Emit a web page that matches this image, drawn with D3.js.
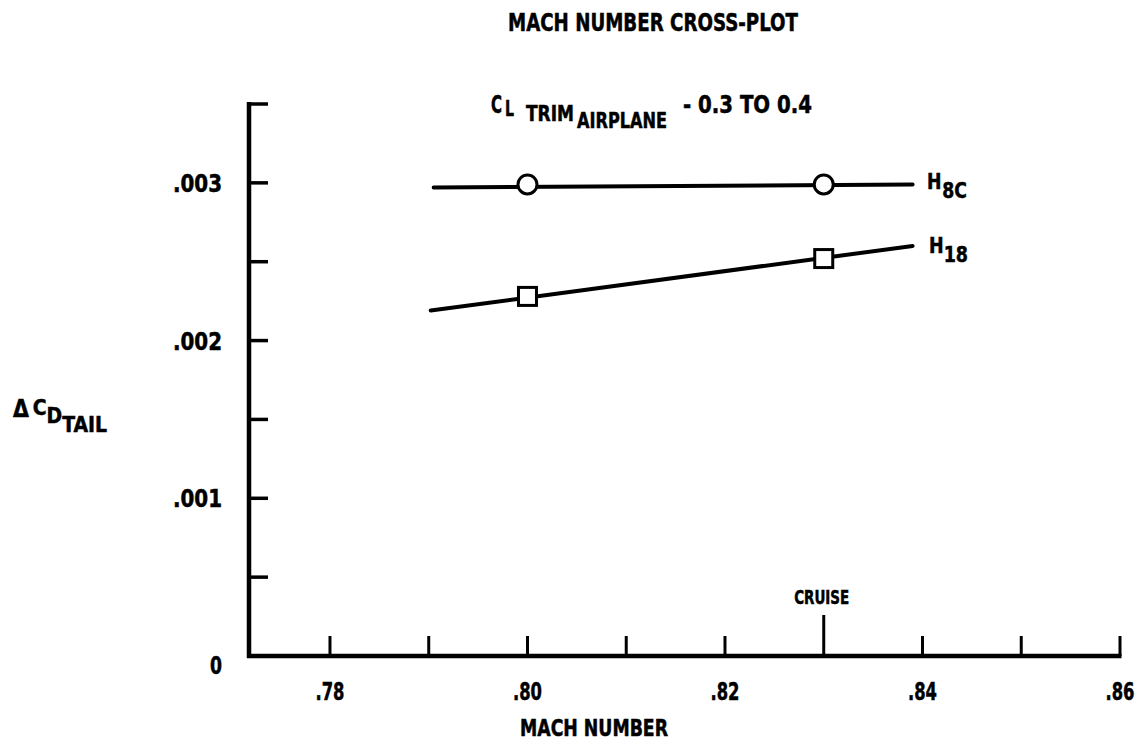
<!DOCTYPE html>
<html><head><meta charset="utf-8">
<script src="https://cdn.jsdelivr.net/npm/d3@7"></script>
<style>
body{margin:0;background:#fff}
text{font-family:"DejaVu Sans Condensed","DejaVu Sans",sans-serif;font-stretch:condensed;font-weight:bold;fill:#000;stroke:#000;stroke-width:0.5px}
</style></head>
<body><svg id="c" width="1144" height="744"></svg>
<script>
// ---- data ----
const xTickValues = [0.78, 0.79, 0.80, 0.81, 0.82, 0.83, 0.84, 0.85, 0.86];
const xLabelValues = [0.78, 0.80, 0.82, 0.84, 0.86];
const xLabelTexts = [".78", ".80", ".82", ".84", ".86"];
const yTickValues = [0, 0.0005, 0.001, 0.0015, 0.002, 0.0025, 0.003, 0.0035];
const yLabelValues = [0, 0.001, 0.002, 0.003];
const yLabelTexts = ["0", ".001", ".002", ".003"];
const cruiseMach = 0.83;

const h8cLineMach = [0.7905, 0.839];
const h8cLineVal  = [0.00297, 0.00299];
const h8cPointMach = [0.80, 0.83];
const h8cPointVal  = [0.00299, 0.00299];

const h18LineMach = [0.7902, 0.839];
const h18LineVal  = [0.00219, 0.00260];
const h18PointMach = [0.80, 0.83];
const h18PointVal  = [0.00228, 0.00252];

// ---- chart ----
const svg = d3.select("#c");
const xMin = 0.7718, xMax = 0.86, yMax = 0.0035;
const x = d3.scaleLinear().domain([xMin, xMax]).range([249, 1120]);
const y = d3.scaleLinear().domain([0, yMax]).range([656, 104]);

function txt(px, py, s, size, len, anchor) {
  const t = svg.append("text").attr("x", px).attr("y", py).attr("font-size", size)
    .attr("text-anchor", anchor || "start").text(s);
  if (len) t.attr("textLength", len).attr("lengthAdjust", "spacingAndGlyphs");
  return t;
}
function fit(t, len) { return t.attr("textLength", len).attr("lengthAdjust", "spacingAndGlyphs"); }

// axes lines
svg.append("line").attr("x1", x(xMin)).attr("x2", x(xMin)).attr("y1", y(yMax) - 2).attr("y2", y(0) + 2)
  .attr("stroke", "#000").attr("stroke-width", 4.5);
svg.append("line").attr("x1", x(xMin) - 2).attr("x2", x(xMax) + 1.5).attr("y1", y(0)).attr("y2", y(0))
  .attr("stroke", "#000").attr("stroke-width", 4.5);

// y ticks (inward)
svg.selectAll(".yt").data(yTickValues.slice(1)).join("line")
  .attr("x1", x(xMin)).attr("x2", x(xMin) + 19)
  .attr("y1", d => y(d)).attr("y2", d => y(d))
  .attr("stroke", "#000").attr("stroke-width", 3.5);

// x ticks (upward)
svg.selectAll(".xt").data(xTickValues).join("line")
  .attr("x1", d => x(d)).attr("x2", d => x(d))
  .attr("y1", y(0)).attr("y2", d => y(0) - (Math.abs(d - cruiseMach) < 1e-9 ? 41 : 20))
  .attr("stroke", "#000").attr("stroke-width", 3);

// tick labels
svg.selectAll(".xl").data(xLabelValues).join("text")
  .attr("x", d => x(d)).attr("y", 700).attr("text-anchor", "middle")
  .attr("font-size", 24).attr("textLength", 29).attr("lengthAdjust", "spacingAndGlyphs")
  .text((d, i) => xLabelTexts[i]);
svg.selectAll(".yl").data(yLabelValues).join("text")
  .attr("x", 222).attr("y", d => d === 0 ? 674 : y(d) + 9).attr("text-anchor", "end")
  .attr("font-size", 24)
  .attr("textLength", (d, i) => yLabelTexts[i].length > 1 ? 49 : 12).attr("lengthAdjust", "spacingAndGlyphs")
  .text((d, i) => yLabelTexts[i]);

// cruise label
txt(x(cruiseMach) - 2, 604, "CRUISE", 19, 55, "middle");

// data lines
const line = d3.line().x(d => x(d[0])).y(d => y(d[1]));
[[h8cLineMach, h8cLineVal], [h18LineMach, h18LineVal]].forEach(([m, v]) => {
  svg.append("path").datum(m.map((mm, i) => [mm, v[i]]))
    .attr("d", line).attr("fill", "none").attr("stroke", "#000")
    .attr("stroke-width", 4).attr("stroke-linecap", "round");
});

// markers
svg.selectAll(".circ").data(h8cPointMach.map((m, i) => [m, h8cPointVal[i]])).join("circle")
  .attr("cx", d => x(d[0])).attr("cy", d => y(d[1])).attr("r", 9.5)
  .attr("fill", "#fff").attr("stroke", "#000").attr("stroke-width", 3);
svg.selectAll(".sq").data(h18PointMach.map((m, i) => [m, h18PointVal[i]])).join("rect")
  .attr("x", d => x(d[0]) - 9).attr("y", d => y(d[1]) - 9).attr("width", 18).attr("height", 18)
  .attr("fill", "#fff").attr("stroke", "#000").attr("stroke-width", 3);

// series labels
const s1 = svg.append("text").attr("x", 927).attr("y", 189).attr("font-size", 22);
s1.append("tspan").text("H");
s1.append("tspan").attr("dx", 1).attr("dy", 9).text("8C");
fit(s1, 40);
const s2 = svg.append("text").attr("x", 929).attr("y", 253).attr("font-size", 22);
s2.append("tspan").text("H");
s2.append("tspan").attr("dy", 9).text("18");
fit(s2, 39);

// annotation
txt(491, 113, "C", 24, 11);
txt(505, 116, "L", 22, 9);
txt(526, 121, "TRIM", 22, 48);
txt(577, 128, "AIRPLANE", 22, 90);
txt(683, 113, "-  0.3 TO 0.4", 24, 129);

// title
txt(508, 31, "MACH NUMBER CROSS-PLOT", 25, 290);

// axis titles
txt(594, 736, "MACH NUMBER", 23, 148, "middle");
const yl = svg.append("text").attr("x", 13).attr("y", 417).attr("font-size", 24);
yl.append("tspan").text("\u0394");
yl.append("tspan").attr("dx", 4).attr("dy", -2).attr("font-size", 22).text("C");
yl.append("tspan").attr("dy", 8).attr("font-size", 22).text("D");
yl.append("tspan").attr("dy", 9).attr("font-size", 22).text("TAIL");
fit(yl, 94);
</script></body></html>
